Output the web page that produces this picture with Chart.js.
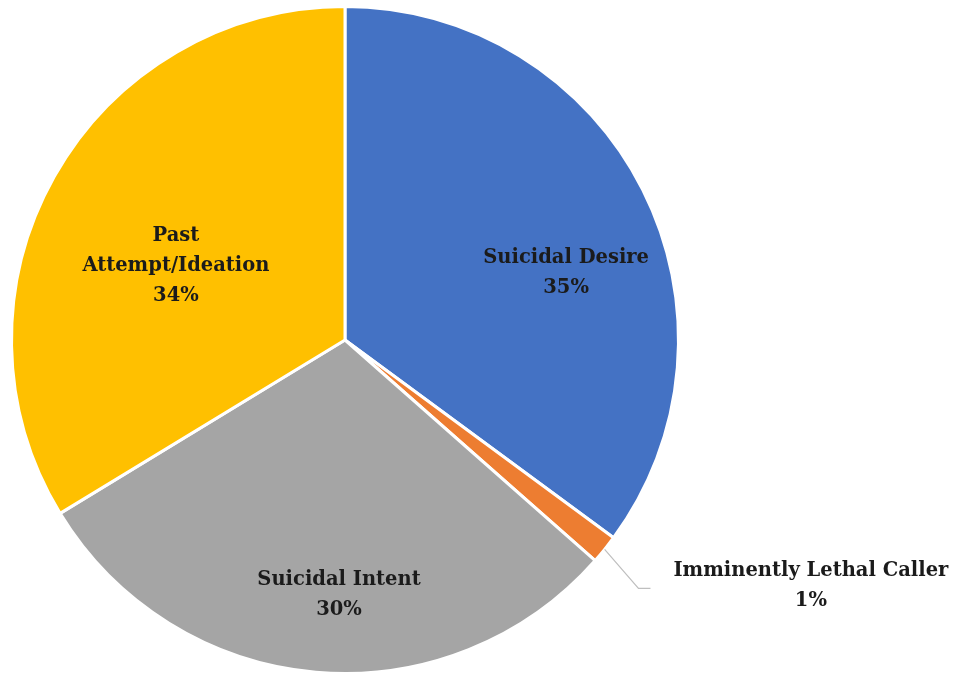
<!DOCTYPE html>
<html>
<head>
<meta charset="utf-8">
<script src="https://cdn.jsdelivr.net/npm/chart.js@4/dist/chart.umd.min.js"></script>
<style>
  html, body { margin: 0; padding: 0; background: #fff; overflow: hidden; }
  #wrap { width: 966px; height: 680px; }
</style>
</head>
<body>
<div id="wrap"><canvas id="pie"></canvas></div>
<script>
const categories = ['Suicidal Desire', 'Imminently Lethal Caller', 'Suicidal Intent', 'Past Attempt/Ideation'];
const labelLines = [['Suicidal Desire'], ['Imminently Lethal Caller'], ['Suicidal Intent'], ['Past', 'Attempt/Ideation']];
const shares = [35.1, 1.4, 29.8, 33.7];
const colors = ['#4472C4', '#ED7D31', '#A5A5A5', '#FFC000'];

// label block centres, in units of the pie radius from its centre
const labelSpots = [[0.663, -0.2], [1.397, 0.737], [-0.018, 0.764], [-0.507, -0.221]];

const labelPlugin = {
    id: 'sliceLabels',
    afterDatasetsDraw(chart) {
        const ctx = chart.ctx;
        const arcs = chart.getDatasetMeta(0).data;
        const total = shares.reduce((a, b) => a + b, 0);
        ctx.save();
        ctx.font = 'bold 19.5px "DejaVu Serif", serif';
        ctx.fillStyle = '#1b1b1b';
        ctx.textAlign = 'center';
        ctx.textBaseline = 'middle';
        arcs.forEach((arc, i) => {
            const r = arc.outerRadius;
            const cx = arc.x + labelSpots[i][0] * r;
            const cy = arc.y + labelSpots[i][1] * r;
            const lines = labelLines[i].concat([Math.round(shares[i] / total * 100) + '%']);
            const lh = 30;
            const top = cy - (lines.length - 1) * lh / 2;
            lines.forEach((t, k) => ctx.fillText(t, cx, top + k * lh));

            if (i === 1) {
                // leader line from the slice to the outside label
                const mid = (arc.startAngle + arc.endAngle) / 2;
                const sx = arc.x + Math.cos(mid) * r;
                const sy = arc.y + Math.sin(mid) * r;
                const ex = arc.x + 0.88 * r;
                const ey = arc.y + 0.745 * r;
                ctx.strokeStyle = '#bfbfbf';
                ctx.lineWidth = 1.2;
                ctx.beginPath();
                ctx.moveTo(sx, sy);
                ctx.lineTo(ex, ey);
                ctx.lineTo(ex + 12, ey);
                ctx.stroke();
            }
        });
        ctx.restore();
    }
};

new Chart(document.getElementById('pie'), {
    type: 'pie',
    data: {
        labels: categories,
        datasets: [{
            data: shares,
            backgroundColor: colors,
            borderColor: '#ffffff',
            borderWidth: 3
        }]
    },
    options: {
        responsive: true,
        maintainAspectRatio: false,
        animation: false,
        layout: {
            padding: { left: 10, top: 4, right: 286, bottom: 4 }
        },
        plugins: {
            legend: { display: false },
            tooltip: { enabled: false }
        }
    },
    plugins: [labelPlugin]
});
</script>
</body>
</html>
